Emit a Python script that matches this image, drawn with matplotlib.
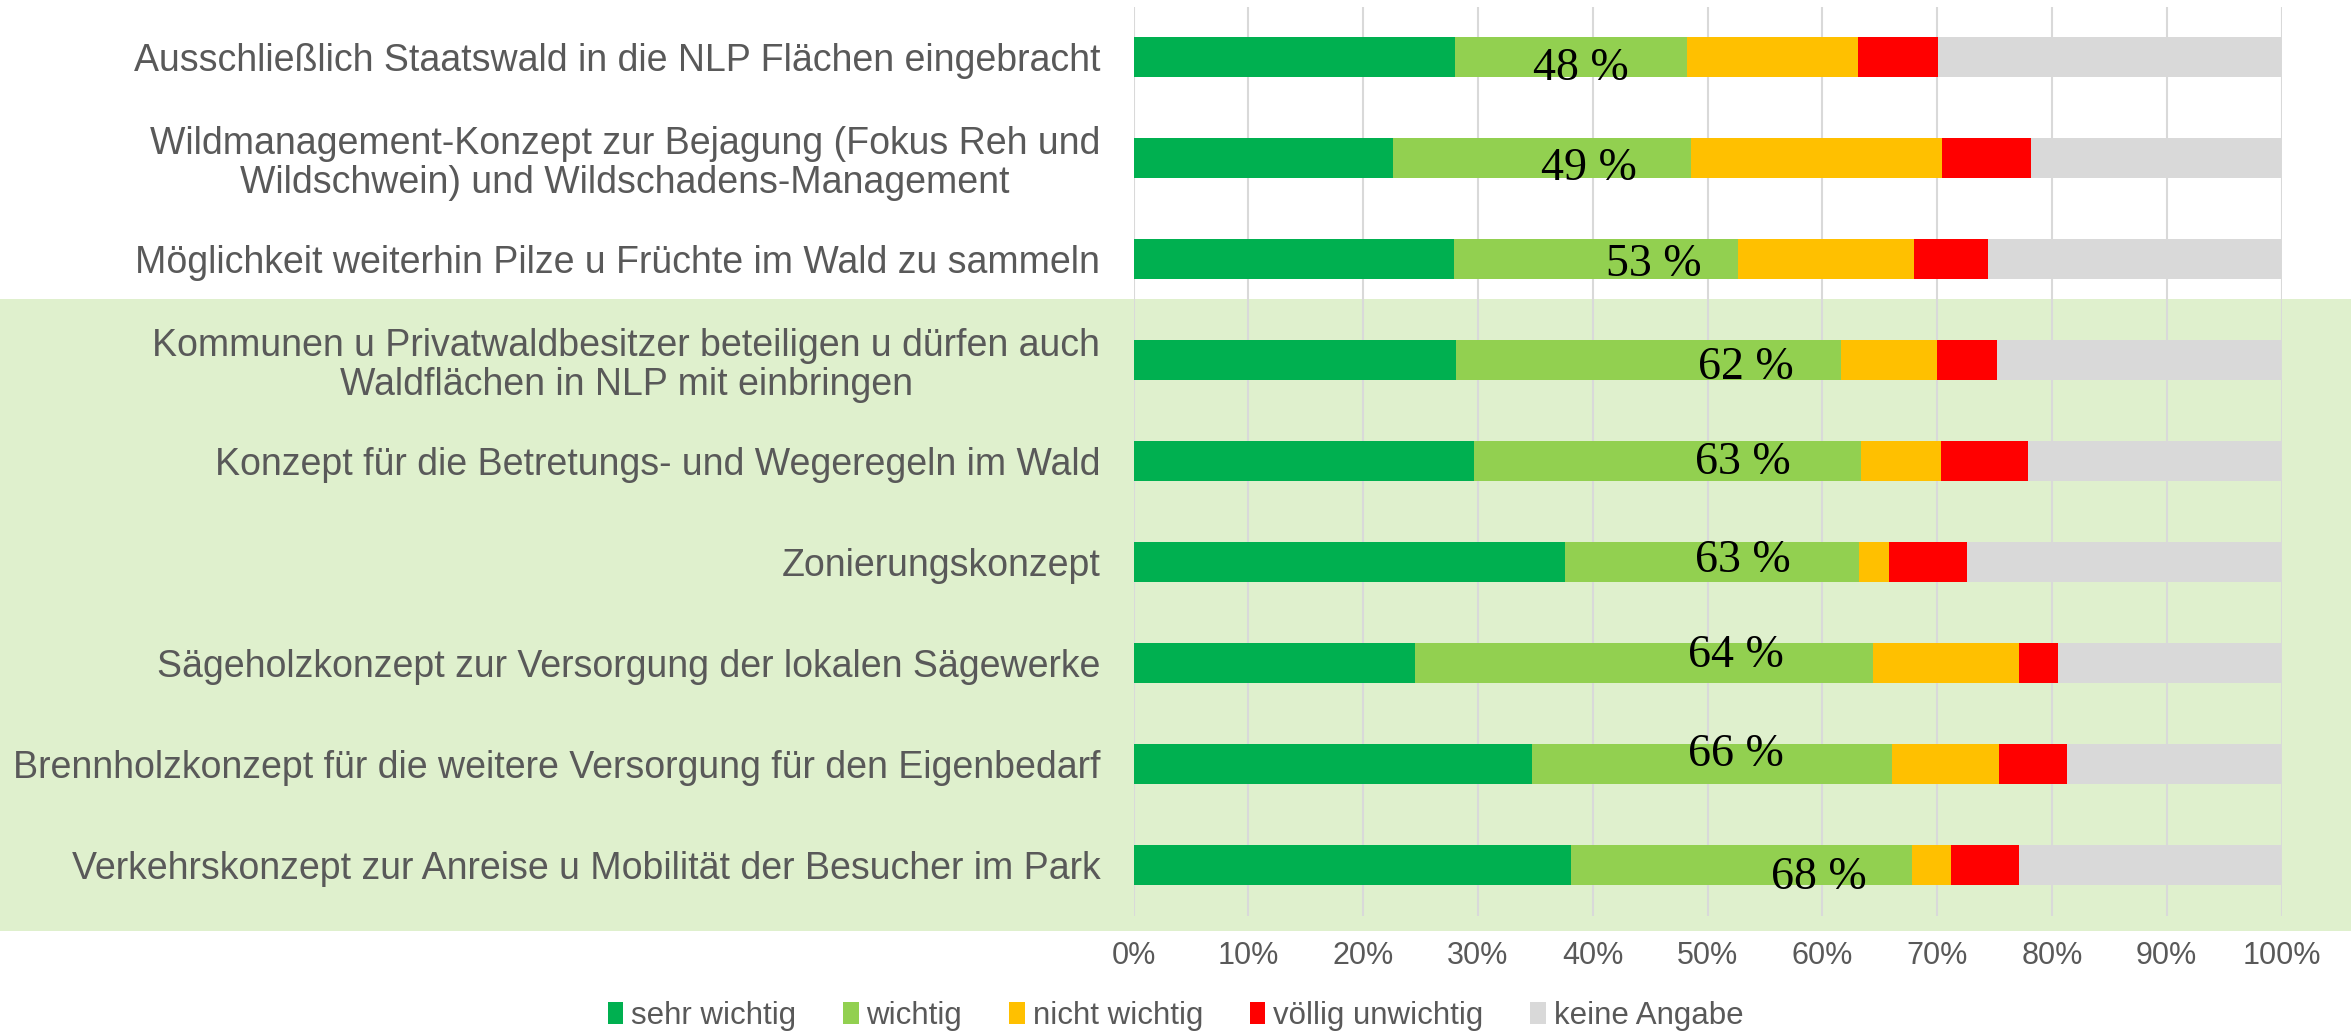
import matplotlib
matplotlib.use('Agg')
import matplotlib.pyplot as plt
from matplotlib.patches import Rectangle, Patch
import numpy as np

plt.rcParams['font.family'] = ['Liberation Sans', 'DejaVu Sans']

# Kategorien (von oben nach unten)
categories = [
    'Ausschließlich Staatswald in die NLP Flächen eingebracht',
    'Wildmanagement-Konzept zur Bejagung (Fokus Reh und\nWildschwein) und Wildschadens-Management',
    'Möglichkeit weiterhin Pilze u Früchte im Wald zu sammeln',
    'Kommunen u Privatwaldbesitzer beteiligen u dürfen auch\nWaldflächen in NLP mit einbringen',
    'Konzept für die Betretungs- und Wegeregeln im Wald',
    'Zonierungskonzept',
    'Sägeholzkonzept zur Versorgung der lokalen Sägewerke',
    'Brennholzkonzept für die weitere Versorgung für den Eigenbedarf',
    'Verkehrskonzept zur Anreise u Mobilität der Besucher im Park',
]

# Anteile in %
sehr_wichtig = [28.0, 22.6, 27.9, 28.1, 29.7, 37.6, 24.5, 34.7, 38.1]
wichtig = [20.2, 26.0, 24.8, 33.5, 33.7, 25.6, 39.9, 31.4, 29.7]
nicht_wichtig = [14.9, 21.8, 15.3, 8.4, 6.9, 2.6, 12.7, 9.3, 3.4]
voellig_unwichtig = [7.0, 7.8, 6.4, 5.2, 7.6, 6.8, 3.4, 5.9, 5.9]
keine_angabe = [29.9, 21.8, 25.6, 24.8, 22.1, 27.4, 19.5, 18.7, 22.9]

# Summe sehr wichtig + wichtig (Beschriftung)
summe_wichtig = [48, 49, 53, 62, 63, 63, 64, 66, 68]

series = [
    ('sehr wichtig', sehr_wichtig, '#00B050'),
    ('wichtig', wichtig, '#92D050'),
    ('nicht wichtig', nicht_wichtig, '#FFC000'),
    ('völlig unwichtig', voellig_unwichtig, '#FF0000'),
    ('keine Angabe', keine_angabe, '#D9D9D9'),
]

# manuell gesetzte Textfelder: x-Mitte in %, Grundlinien-Versatz in Zeilen
label_x = [39.0, 39.7, 45.3, 53.3, 53.1, 53.1, 52.5, 52.5, 59.7]
label_dy = [0.23, 0.22, 0.17, 0.19, 0.13, 0.10, 0.04, 0.015, 0.24]

fig = plt.figure(figsize=(23.51, 10.31), dpi=100)
# hellgrüner Hintergrund hinter den unteren Kategorien
fig.patches.append(Rectangle((0, 100 / 1031), 1, 632 / 1031, transform=fig.transFigure,
                             facecolor='#DFF0CD', edgecolor='none', zorder=-1))

ax = fig.add_axes([1133.5 / 2351, 115.5 / 1031, 1148 / 2351, 909 / 1031])
ax.set_facecolor('none')

y = np.arange(len(categories))
left = np.zeros(len(categories))
for name, vals, color in series:
    ax.barh(y, vals, left=left, height=0.4, color=color, label=name, zorder=3)
    left += np.array(vals)

for i, s in enumerate(summe_wichtig):
    ax.text(label_x[i], y[i] + label_dy[i], f'{s} %', ha='center', va='baseline',
            fontsize=33, family='Liberation Serif', color='black', zorder=5)

ax.set_xlim(0, 100)
ax.set_ylim(len(categories) - 0.5, -0.5)
ax.set_xticks(np.arange(0, 101, 10))
ax.set_xticklabels([f'{v}%' for v in range(0, 101, 10)])
ax.set_yticks(y)
ax.set_yticklabels(categories, multialignment='center', linespacing=1.1)
ax.tick_params(axis='both', length=0, labelcolor='#595959')
ax.tick_params(axis='y', pad=24, labelsize=27)
ax.tick_params(axis='x', pad=18, labelsize=22)
ax.grid(axis='x', color='#D9D9D9', linewidth=1.5, zorder=0)
ax.set_axisbelow(True)
for sp in ax.spines.values():
    sp.set_visible(False)

handles = [Patch(facecolor=c, edgecolor='none', label=n) for n, _, c in series]
fig.legend(handles=handles, loc='center', bbox_to_anchor=(0.5, 15 / 1031), ncol=5,
           frameon=False, fontsize=22.5, labelcolor='#595959', handlelength=0.5,
           handleheight=0.7, handletextpad=0.25, columnspacing=1.5)

fig.savefig('out.png', dpi=100)
